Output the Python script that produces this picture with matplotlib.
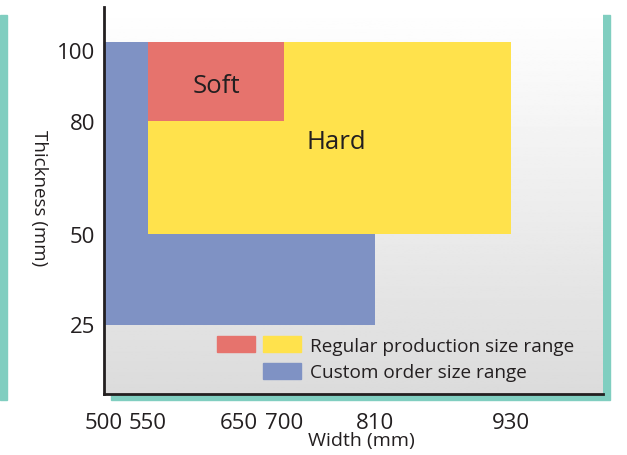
import numpy as np
import matplotlib
matplotlib.use("Agg")
import matplotlib.pyplot as plt
from matplotlib.patches import Rectangle, Patch
from matplotlib.legend_handler import HandlerTuple
from matplotlib.transforms import ScaledTranslation

# size ranges (mm): width from-to, thickness from-to
ranges = ["Custom", "Hard", "Soft"]
width_from = [500, 550, 550]
width_to = [810, 930, 700]
thick_from = [25, 50, 80]
thick_to = [100, 100, 100]
colors = ["#7f92c4", "#ffe24c", "#e6736d"]

x_ticks = [500, 550, 650, 700, 810, 930]
y_ticks = [25, 50, 80, 100]

legend_labels = ["Regular production size range", "Custom order size range"]

ink = "#231f20"
teal = "#80cec0"
plt.rcParams['font.family'] = ['Open Sans', 'DejaVu Sans']

fig = plt.figure(figsize=(6.27, 4.56), dpi=100)
W, H = 627, 456

def fig_box(x0, y0, x1, y1):
    # pixel box (top-left origin) -> figure fraction rectangle
    return (x0 / W, 1 - y1 / H), (x1 - x0) / W, (y1 - y0) / H

# teal decorations behind the panel
for box in [fig_box(0, 16, 7, 401), fig_box(111, 16, 610, 401)]:
    fig.patches.append(Rectangle(*box, transform=fig.transFigure,
                                 color=teal, zorder=-5))

ax = fig.add_axes([104 / W, 1 - 395 / H, 499 / W, 387 / H])
ax.set_facecolor("none")

# the scales are not linear in the original drawing: piecewise mapping
x_anchor = [500, 550, 700, 810, 930, 1010]
x_pix = [0, 44, 180, 271, 407, 499]
y_anchor = [6, 25, 50, 80, 100, 109]
y_pix = [0, 69.5, 160, 273.5, 352, 387]

ax.set_xscale("function", functions=(lambda v: np.interp(v, x_anchor, x_pix),
                                     lambda p: np.interp(p, x_pix, x_anchor)))
ax.set_yscale("function", functions=(lambda v: np.interp(v, y_anchor, y_pix),
                                     lambda p: np.interp(p, y_pix, y_anchor)))
ax.set_xlim(500, 1010)
ax.set_ylim(6, 109)

# gradient background
grad = np.linspace(1.0, 0.86, 256).reshape(-1, 1)
ax.imshow(grad, cmap="gray", vmin=0, vmax=1, extent=[0, 1, 0, 1],
          transform=ax.transAxes, aspect="auto", zorder=0)

# size range blocks
for name, x0, x1, y0, y1, c in zip(ranges, width_from, width_to,
                                   thick_from, thick_to, colors):
    ax.bar(x0, y1 - y0, width=x1 - x0, bottom=y0, align="edge",
           color=c, linewidth=0, zorder=2)

ax.text(625, 89, "Soft", fontsize=18.5, color=ink, ha="center", va="center", zorder=3)
ax.text(763, 74.5, "Hard", fontsize=18.5, color=ink, ha="center", va="center", zorder=3)

# ticks and spines
ax.set_xticks(x_ticks)
ax.set_yticks(y_ticks)
ax.tick_params(length=0, labelsize=16, labelcolor=ink)
ax.tick_params(axis="x", pad=13)
ax.tick_params(axis="y", pad=6.5)
for s in ["top", "right"]:
    ax.spines[s].set_visible(False)
for s in ["left", "bottom"]:
    ax.spines[s].set_color(ink)
    ax.spines[s].set_linewidth(2)
    ax.spines[s].set_zorder(4)

# the "100" label sits a little lower in the original
top_tick = ax.yaxis.get_major_ticks()[y_ticks.index(100)]
top_tick.label1.set_transform(top_tick.label1.get_transform() +
                              ScaledTranslation(0, -8 / 100, fig.dpi_scale_trans))

ax.set_xlabel("Width (mm)", fontsize=14, color=ink)
ax.xaxis.set_label_coords(0.515, -0.119)
ax.xaxis.label.set_va("center")
ax.set_ylabel("Thickness (mm)", fontsize=13.5, color=ink, rotation=270)
ax.yaxis.set_label_coords(-0.13, 0.509)
ax.yaxis.label.set_va("center")

# legend: red + yellow share one row
red = Patch(color=colors[2])
yellow = Patch(color=colors[1])
blue = Patch(color=colors[0])
blank = Patch(color="none")
ax.legend([(red, yellow), (blank, blue)], legend_labels,
          handler_map={tuple: HandlerTuple(ndivide=None, pad=0.42)},
          loc="upper left", bbox_to_anchor=(0.2265, 0.15), frameon=False,
          fontsize=13.7, handlelength=4.42, handleheight=0.95,
          handletextpad=0.47, labelspacing=0.42, borderpad=0, borderaxespad=0,
          labelcolor=ink)

plt.savefig("out.png", dpi=100)
